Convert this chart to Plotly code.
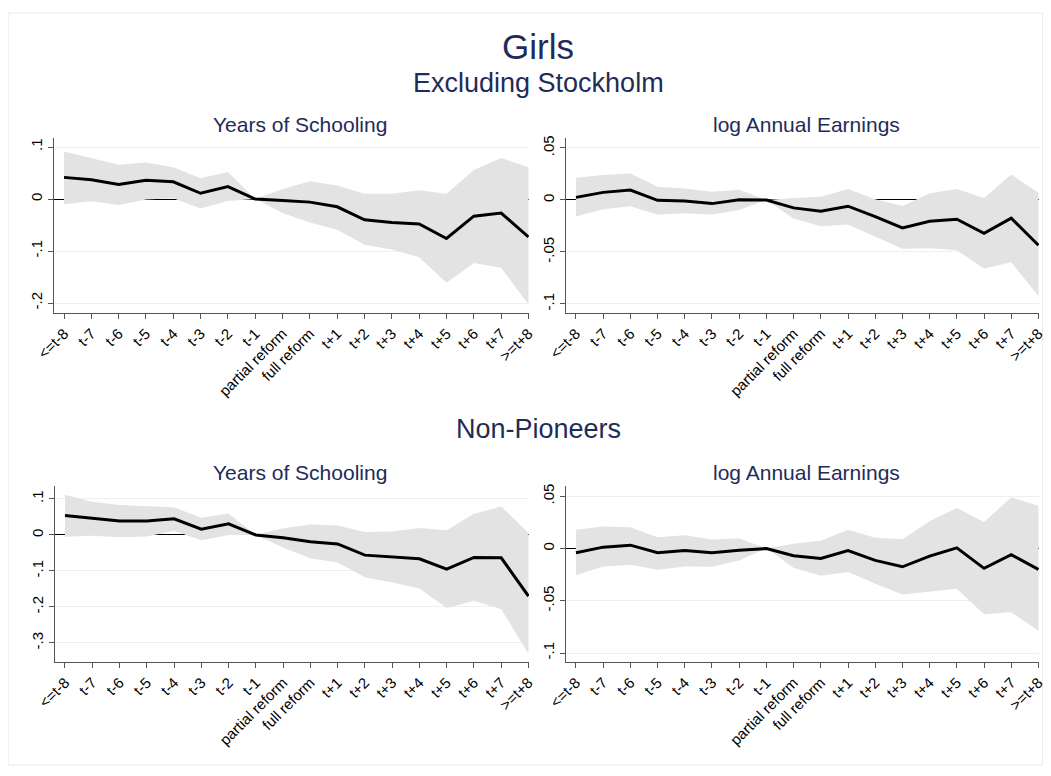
import plotly.graph_objects as go

OFF = 8  # default page body margin
W, H = 1051 - OFF, 776 - 2 * OFF

categories = ["<=t-8", "t-7", "t-6", "t-5", "t-4", "t-3", "t-2", "t-1",
              "partial reform", "full reform", "t+1", "t+2", "t+3", "t+4",
              "t+5", "t+6", "t+7", ">=t+8"]

# Excluding Stockholm - Years of Schooling
exs_school_est = [0.0416, 0.037, 0.028, 0.036, 0.033, 0.011, 0.024, 0.0, -0.003, -0.006,
                  -0.015, -0.040, -0.045, -0.048, -0.076, -0.033, -0.027, -0.073]
exs_school_hi = [0.0915, 0.079, 0.066, 0.070, 0.061, 0.040, 0.052, 0.0, 0.019, 0.034,
                 0.026, 0.010, 0.010, 0.017, 0.010, 0.056, 0.079, 0.061]
exs_school_lo = [-0.010, -0.0045, -0.0115, -0.001, 0.0015, -0.0185, -0.004, 0.0, -0.027, -0.045,
                 -0.059, -0.088, -0.097, -0.112, -0.161, -0.123, -0.132, -0.203]

# Excluding Stockholm - log Annual Earnings
exs_earn_est = [0.0025, 0.0073, 0.0096, -0.0003, -0.001, -0.0035, 0.0003, 0.0, -0.0076, -0.0108,
                -0.006, -0.016, -0.0268, -0.0204, -0.0185, -0.032, -0.0175, -0.0436]
exs_earn_hi = [0.0213, 0.0239, 0.0255, 0.0127, 0.011, 0.008, 0.0099, 0.0, 0.002, 0.003,
               0.0105, 0.0006, -0.0057, 0.0064, 0.0105, 0.0019, 0.0245, 0.007]
exs_earn_lo = [-0.016, -0.0089, -0.006, -0.0143, -0.0127, -0.014, -0.0096, 0.0, -0.0178, -0.0252,
               -0.0236, -0.035, -0.047, -0.0465, -0.0484, -0.066, -0.060, -0.0924]

# Non-Pioneers - Years of Schooling
np_school_est = [0.054, 0.0466, 0.039, 0.039, 0.0448, 0.0159, 0.0308, 0.0, -0.0075, -0.0186,
                 -0.025, -0.056, -0.0606, -0.066, -0.095, -0.0625, -0.0634, -0.170]
np_school_hi = [0.112, 0.092, 0.083, 0.080, 0.077, 0.0476, 0.0597, 0.0, 0.0186, 0.029,
                0.026, 0.0084, 0.0093, 0.0196, 0.013, 0.0587, 0.079, 0.0056]
np_school_lo = [-0.0047, -0.002, -0.0065, -0.004, 0.012, -0.015, 0.0, 0.0, -0.0345, -0.065,
                -0.0765, -0.1175, -0.132, -0.149, -0.203, -0.183, -0.206, -0.330]

# Non-Pioneers - log Annual Earnings
np_earn_est = [-0.0041, 0.0013, 0.0032, -0.0041, -0.0019, -0.0041, -0.0016, 0.0, -0.007, -0.0095,
               -0.0019, -0.0114, -0.0175, -0.0073, 0.0006, -0.019, -0.006, -0.020]
np_earn_hi = [0.018, 0.021, 0.0203, 0.0108, 0.0127, 0.0086, 0.0095, 0.0, 0.0045, 0.0073,
              0.018, 0.0102, 0.0089, 0.026, 0.0388, 0.0254, 0.049, 0.041]
np_earn_lo = [-0.0257, -0.0172, -0.0156, -0.0203, -0.0172, -0.0175, -0.0114, 0.0, -0.0184, -0.026,
              -0.0226, -0.0337, -0.0439, -0.041, -0.0385, -0.063, -0.061, -0.0788]

school_ticks_top = [0.1, 0.0, -0.1, -0.2]
school_ticktext_top = [".1", "0", "-.1", "-.2"]
school_ticks_bot = [0.1, 0.0, -0.1, -0.2, -0.3]
school_ticktext_bot = [".1", "0", "-.1", "-.2", "-.3"]
earn_ticks = [0.05, 0.0, -0.05, -0.1]
earn_ticktext = [".05", "0", "-.05", "-.1"]

FONT = "Liberation Sans, Arial, Helvetica, sans-serif"
TITLE_COLOR = "#1f2c58"
FILL = "#e3e3e3"


def px(x):
    return (x - OFF) / W


def py(y):
    return 1 - (y - OFF) / H


panels = [
    (exs_school_est, exs_school_hi, exs_school_lo, (54, 529), (138, 313),
     (-0.2192, 0.1173), school_ticks_top, school_ticktext_top),
    (exs_earn_est, exs_earn_hi, exs_earn_lo, (566, 1039), (138, 313),
     (-0.1087, 0.0596), earn_ticks, earn_ticktext),
    (np_school_est, np_school_hi, np_school_lo, (55, 529), (486, 662),
     (-0.3528, 0.136), school_ticks_bot, school_ticktext_bot),
    (np_earn_est, np_earn_hi, np_earn_lo, (566, 1039), (486, 662),
     (-0.1086, 0.0598), earn_ticks, earn_ticktext),
]

fig = go.Figure()
layout = dict(
    width=W, height=H,
    margin=dict(l=0, r=0, t=0, b=0, pad=0),
    paper_bgcolor="white", plot_bgcolor="white",
    showlegend=False,
    font=dict(family=FONT, color="black", size=15),
)

xs = list(range(len(categories)))
for i, (est, hi, lo, xd, yd, yr, tv, tt) in enumerate(panels, start=1):
    xa = "x" if i == 1 else f"x{i}"
    ya = "y" if i == 1 else f"y{i}"
    fig.add_trace(go.Scatter(x=xs, y=hi, xaxis=xa, yaxis=ya, mode="lines",
                             line=dict(width=0, color=FILL), hoverinfo="skip"))
    fig.add_trace(go.Scatter(x=xs, y=lo, xaxis=xa, yaxis=ya, mode="lines",
                             line=dict(width=0, color=FILL), fill="tonexty",
                             fillcolor=FILL, hoverinfo="skip"))
    fig.add_trace(go.Scatter(x=xs, y=est, xaxis=xa, yaxis=ya, mode="lines",
                             line=dict(width=3, color="black")))
    xkey = "xaxis" if i == 1 else f"xaxis{i}"
    ykey = "yaxis" if i == 1 else f"yaxis{i}"
    layout[xkey] = dict(
        domain=[px(xd[0]), px(xd[1])], anchor=ya, automargin=False,
        range=[-0.366, 17.02], tickmode="array", tickvals=xs, ticktext=categories,
        tickangle=-45, ticks="outside", ticklen=5, tickcolor="#555555",
        ticklabeloverflow="allow",
        showline=True, linecolor="#555555", linewidth=1, showgrid=False, zeroline=False,
        tickfont=dict(size=15, color="black", family=FONT),
    )
    layout[ykey] = dict(
        domain=[py(yd[1]), py(yd[0])], anchor=xa, automargin=False,
        range=list(yr), tickmode="array", tickvals=tv, ticktext=tt,
        tickangle=-90, ticks="outside", ticklen=5, tickcolor="#555555",
        ticklabeloverflow="allow",
        showline=True, linecolor="#555555", linewidth=1,
        showgrid=True, gridcolor="#e9f1f2", gridwidth=1,
        zeroline=True, zerolinecolor="black", zerolinewidth=1,
        tickfont=dict(size=15, color="black", family=FONT),
    )

fig.update_layout(**layout)


def ann(text, x, y, size):
    fig.add_annotation(text=text, x=px(x), y=py(y), xref="paper", yref="paper",
                       xanchor="center", yanchor="middle", showarrow=False,
                       font=dict(family=FONT, size=size, color=TITLE_COLOR))


ann("Girls", 538, 47, 35)
ann("Excluding Stockholm", 538, 83, 27)
ann("Years of Schooling", 300, 124, 21)
ann("log Annual Earnings", 806, 124, 21)
ann("Non-Pioneers", 538, 429, 27)
ann("Years of Schooling", 300, 472, 21)
ann("log Annual Earnings", 806, 472, 21)

fig.add_shape(type="rect", xref="paper", yref="paper",
              x0=px(8), x1=px(1042.5), y0=py(765), y1=py(13),
              line=dict(color="#e6ecee", width=1), fillcolor="rgba(0,0,0,0)", layer="below")

fig.write_html("out.html")
